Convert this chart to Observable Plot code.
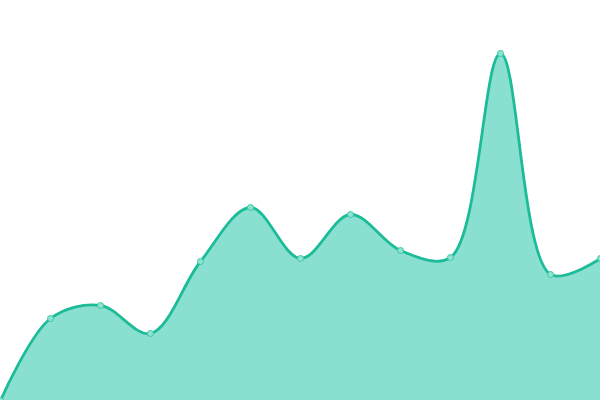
<!DOCTYPE html>
<html>
<head>
<meta charset="utf-8">
<script src="https://cdn.jsdelivr.net/npm/d3@7"></script>
<script src="https://cdn.jsdelivr.net/npm/@observablehq/plot@0.6"></script>
<style>
html, body { margin: 0; padding: 0; background: #fff; overflow: hidden; }
</style>
</head>
<body>
<div id="chart"></div>
<script>
const xs = [0, 50, 100, 150, 200, 250, 300, 350, 400, 450, 500, 550, 600];
const values = [0, 82, 95, 67, 139, 193, 142, 186, 150, 143, 347, 126, 142];
const data = xs.map((x, i) => ({x, y: values[i]}));

const chart = Plot.plot({
  width: 600,
  height: 400,
  margin: 0,
  x: {domain: [0, 600], axis: null},
  y: {domain: [0, 400], axis: null},
  marks: [
    Plot.areaY(data, {x: "x", y: "y", curve: "catmull-rom", fill: "#8ae0d0"}),
    Plot.lineY(data, {x: "x", y: "y", curve: "catmull-rom", stroke: "#1dbc98", strokeWidth: 2.8}),
    Plot.dot(data, {x: "x", y: "y", r: 3, fill: "#8ee3d1", stroke: "#3cc6a6", strokeWidth: 1})
  ]
});
document.getElementById("chart").appendChild(chart);
</script>
</body>
</html>
